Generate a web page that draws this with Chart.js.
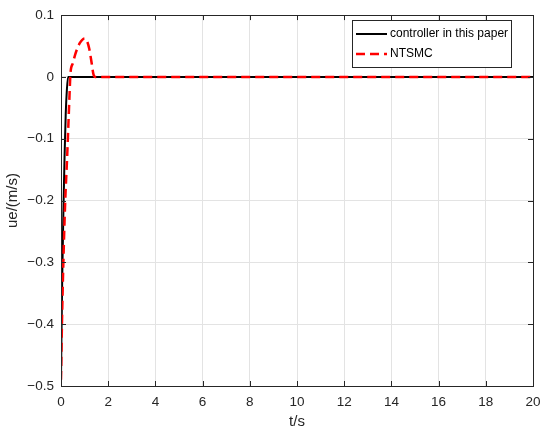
<!DOCTYPE html>
<html>
<head>
<meta charset="utf-8">
<script src="https://cdn.jsdelivr.net/npm/chart.js@4/dist/chart.umd.min.js"></script>
<style>
  html, body { margin: 0; padding: 0; background: #fff; }
  #wrap { width: 550px; height: 433px; }
</style>
</head>
<body>
<div id="wrap"><canvas id="chart"></canvas></div>
<script>
// controller in this paper
const tPaper = [0, 0.02, 0.05, 0.1, 0.15, 0.2, 0.25, 0.3, 20];
const uePaper = [-0.49, -0.42, -0.33, -0.22, -0.13, -0.06, -0.02, 0, 0];

// NTSMC
const tNtsmc = [0, 0.04, 0.1, 0.18, 0.26, 0.32, 0.36, 0.4, 0.5, 0.6, 0.7, 0.8, 0.9, 1.0, 1.1, 1.2, 1.3, 1.37, 1.45, 20];
const ueNtsmc = [-0.49, -0.4, -0.3, -0.2, -0.13, -0.07, -0.03, 0.005, 0.022, 0.036, 0.047, 0.055, 0.06, 0.062, 0.058, 0.045, 0.022, 0.005, 0, 0];

const xTicks = [0, 2, 4, 6, 8, 10, 12, 14, 16, 18, 20];
const yTicks = [-0.5, -0.4, -0.3, -0.2, -0.1, 0, 0.1];

const FONT = 'Liberation Sans, Arial, Helvetica, sans-serif';
const AXIS = '#262626';

const toPoints = (xs, ys) => xs.map((x, i) => ({ x: x, y: ys[i] }));

const fmt = (v) => {
  const r = Math.round(v * 10) / 10;
  if (r === 0) return '0';
  return (r < 0 ? '\u2212' : '') + String(Math.abs(r));
};

// box, inward ticks and legend, drawn the matlab way
const boxPlugin = {
  id: 'box',
  afterDraw(chart) {
    const ctx = chart.ctx;
    const a = chart.chartArea;
    const xs = chart.scales.x;
    const ys = chart.scales.y;
    ctx.save();
    ctx.strokeStyle = AXIS;
    ctx.lineWidth = 1;
    ctx.strokeRect(Math.round(a.left) + 0.5, Math.round(a.top) + 0.5,
      Math.round(a.right - a.left), Math.round(a.bottom - a.top));
    ctx.beginPath();
    xTicks.forEach(v => {
      const px = Math.round(xs.getPixelForValue(v)) + 0.5;
      ctx.moveTo(px, a.bottom); ctx.lineTo(px, a.bottom - 5);
      ctx.moveTo(px, a.top); ctx.lineTo(px, a.top + 5);
    });
    yTicks.forEach(v => {
      const py = Math.round(ys.getPixelForValue(v)) + 0.5;
      ctx.moveTo(a.left, py); ctx.lineTo(a.left + 5, py);
      ctx.moveTo(a.right, py); ctx.lineTo(a.right - 5, py);
    });
    ctx.stroke();

    // legend
    const lx = 352, ly = 20, lw = 159, lh = 47;
    ctx.fillStyle = '#fff';
    ctx.fillRect(lx, ly, lw, lh);
    ctx.strokeRect(lx + 0.5, ly + 0.5, lw, lh);
    ctx.font = '12px ' + FONT;
    ctx.textBaseline = 'middle';
    const items = [chart.data.datasets[1], chart.data.datasets[0]];
    items.forEach((ds, i) => {
      const y = ly + 14 + i * 20;
      ctx.beginPath();
      ctx.strokeStyle = ds.borderColor;
      ctx.lineWidth = ds.borderWidth;
      ctx.setLineDash(ds.borderDash || []);
      ctx.moveTo(lx + 4, y); ctx.lineTo(lx + 35, y);
      ctx.stroke();
      ctx.setLineDash([]);
      ctx.fillStyle = '#000';
      ctx.fillText(ds.label, lx + 38, y);
    });
    ctx.restore();
  }
};

new Chart(document.getElementById('chart'), {
  type: 'line',
  data: {
    datasets: [
      {
        label: 'NTSMC',
        data: toPoints(tNtsmc, ueNtsmc),
        borderColor: '#ff0000',
        borderWidth: 2.5,
        borderDash: [9, 5],
        pointRadius: 0,
        cubicInterpolationMode: 'monotone',
        order: 0
      },
      {
        label: 'controller in this paper',
        data: toPoints(tPaper, uePaper),
        borderColor: '#000000',
        borderWidth: 2,
        pointRadius: 0,
        cubicInterpolationMode: 'monotone',
        order: 1
      }
    ]
  },
  options: {
    responsive: true,
    maintainAspectRatio: false,
    animation: false,
    layout: { padding: { top: 13, right: 17, left: 0, bottom: 0 } },
    plugins: {
      legend: { display: false },
      tooltip: { enabled: false }
    },
    scales: {
      x: {
        type: 'linear',
        min: 0,
        max: 20,
        afterFit: (s) => { s.height = 47; },
        afterBuildTicks: (s) => { s.ticks = xTicks.map(v => ({ value: v })); },
        grid: { color: '#e3e3e3', drawTicks: false },
        border: { display: false },
        ticks: { color: '#262626', font: { family: FONT, size: 13.5 }, padding: 8, maxRotation: 0 },
        title: { display: true, text: 't/s', color: '#262626', font: { family: FONT, size: 15 }, padding: { top: 4, bottom: 2 } }
      },
      y: {
        type: 'linear',
        min: -0.5,
        max: 0.1,
        afterFit: (s) => { s.width = 61; },
        afterBuildTicks: (s) => { s.ticks = yTicks.map(v => ({ value: v })); },
        grid: { color: '#e3e3e3', drawTicks: false },
        border: { display: false },
        ticks: { color: '#262626', font: { family: FONT, size: 13.5 }, padding: 7, callback: fmt },
        title: { display: true, text: 'ue/(m/s)', color: '#262626', font: { family: FONT, size: 15 }, padding: { top: 4, bottom: 4 } }
      }
    }
  },
  plugins: [boxPlugin]
});
</script>
</body>
</html>
